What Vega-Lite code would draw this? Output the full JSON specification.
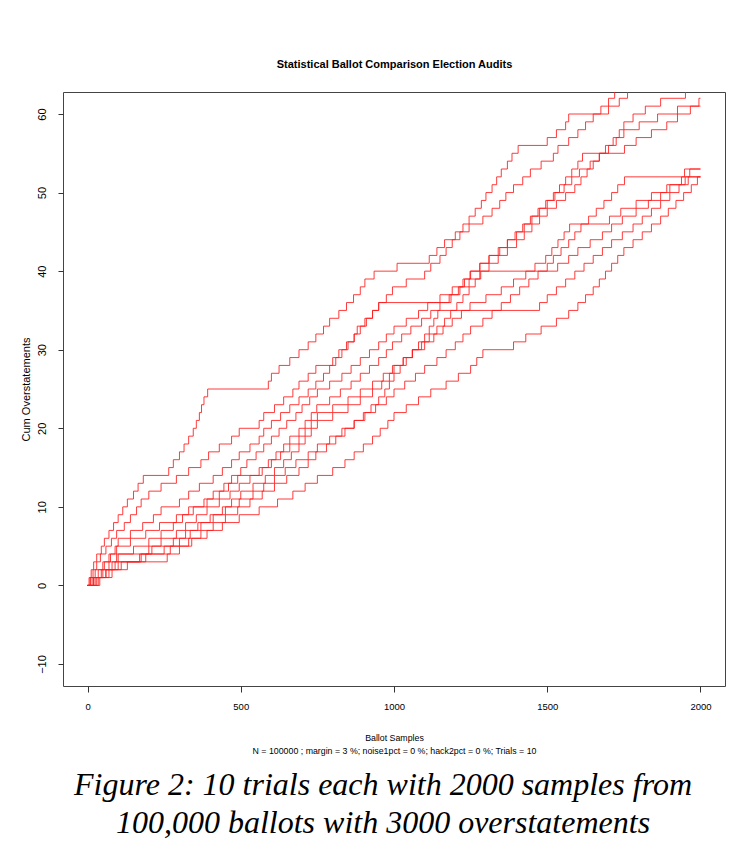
{
"$schema":"https://vega.github.io/schema/vega-lite/v6.json",
"width":662,"height":594,
"autosize":{"type":"none"},
"padding":{"left":63,"top":92,"right":30,"bottom":181},
"background":"white",
"config":{"view":{"stroke":"#444","strokeWidth":1}},
"title":{"text":["Figure 2: 10 trials each with 2000 samples from","100,000 ballots with 3000 overstatements"],"orient":"bottom","anchor":"middle","font":"Liberation Serif","fontStyle":"italic","fontWeight":"normal","fontSize":32,"lineHeight":38,"offset":15,"dx":-11,"color":"#000"},
"data":{"values":[
{"t":1,"x":0,"y":0},{"t":1,"x":5,"y":1},{"t":1,"x":12,"y":2},{"t":1,"x":20,"y":3},{"t":1,"x":30,"y":4},{"t":1,"x":45,"y":5},{"t":1,"x":55,"y":6},{"t":1,"x":70,"y":7},{"t":1,"x":85,"y":8},{"t":1,"x":100,"y":9},{"t":1,"x":115,"y":10},{"t":1,"x":130,"y":11},{"t":1,"x":150,"y":12},{"t":1,"x":165,"y":13},{"t":1,"x":182,"y":14},{"t":1,"x":265,"y":15},{"t":1,"x":280,"y":16},{"t":1,"x":300,"y":17},{"t":1,"x":315,"y":18},{"t":1,"x":330,"y":19},{"t":1,"x":345,"y":20},{"t":1,"x":355,"y":21},{"t":1,"x":365,"y":22},{"t":1,"x":372,"y":23},{"t":1,"x":380,"y":24},{"t":1,"x":392,"y":25},{"t":1,"x":590,"y":26},{"t":1,"x":600,"y":27},{"t":1,"x":625,"y":28},{"t":1,"x":660,"y":29},{"t":1,"x":690,"y":30},{"t":1,"x":720,"y":31},{"t":1,"x":745,"y":32},{"t":1,"x":770,"y":33},{"t":1,"x":790,"y":34},{"t":1,"x":820,"y":35},{"t":1,"x":845,"y":36},{"t":1,"x":868,"y":37},{"t":1,"x":890,"y":38},{"t":1,"x":905,"y":39},{"t":1,"x":935,"y":40},{"t":1,"x":1010,"y":41},{"t":1,"x":1115,"y":42},{"t":1,"x":1140,"y":43},{"t":1,"x":1165,"y":44},{"t":1,"x":1200,"y":45},{"t":1,"x":1225,"y":46},{"t":1,"x":1245,"y":47},{"t":1,"x":1265,"y":48},{"t":1,"x":1285,"y":49},{"t":1,"x":1300,"y":50},{"t":1,"x":1320,"y":51},{"t":1,"x":1335,"y":52},{"t":1,"x":1350,"y":53},{"t":1,"x":1370,"y":54},{"t":1,"x":1385,"y":55},{"t":1,"x":1405,"y":56},{"t":1,"x":1500,"y":57},{"t":1,"x":1530,"y":58},{"t":1,"x":1560,"y":59},{"t":1,"x":1570,"y":60},{"t":1,"x":1675,"y":61},{"t":1,"x":1700,"y":62},{"t":1,"x":1720,"y":63},{"t":1,"x":1760,"y":64},
{"t":2,"x":0,"y":0},{"t":2,"x":8,"y":1},{"t":2,"x":18,"y":2},{"t":2,"x":30,"y":3},{"t":2,"x":42,"y":4},{"t":2,"x":60,"y":5},{"t":2,"x":78,"y":6},{"t":2,"x":95,"y":7},{"t":2,"x":120,"y":8},{"t":2,"x":140,"y":9},{"t":2,"x":160,"y":10},{"t":2,"x":175,"y":11},{"t":2,"x":200,"y":12},{"t":2,"x":240,"y":13},{"t":2,"x":290,"y":14},{"t":2,"x":330,"y":15},{"t":2,"x":370,"y":16},{"t":2,"x":395,"y":17},{"t":2,"x":430,"y":18},{"t":2,"x":470,"y":19},{"t":2,"x":495,"y":20},{"t":2,"x":560,"y":21},{"t":2,"x":575,"y":22},{"t":2,"x":610,"y":23},{"t":2,"x":640,"y":24},{"t":2,"x":670,"y":25},{"t":2,"x":690,"y":26},{"t":2,"x":720,"y":27},{"t":2,"x":745,"y":28},{"t":2,"x":800,"y":29},{"t":2,"x":820,"y":30},{"t":2,"x":845,"y":31},{"t":2,"x":870,"y":32},{"t":2,"x":880,"y":33},{"t":2,"x":905,"y":34},{"t":2,"x":930,"y":35},{"t":2,"x":950,"y":36},{"t":2,"x":975,"y":37},{"t":2,"x":995,"y":38},{"t":2,"x":1040,"y":39},{"t":2,"x":1100,"y":40},{"t":2,"x":1120,"y":41},{"t":2,"x":1150,"y":42},{"t":2,"x":1170,"y":43},{"t":2,"x":1190,"y":44},{"t":2,"x":1215,"y":45},{"t":2,"x":1245,"y":46},{"t":2,"x":1290,"y":47},{"t":2,"x":1320,"y":48},{"t":2,"x":1345,"y":49},{"t":2,"x":1365,"y":50},{"t":2,"x":1390,"y":51},{"t":2,"x":1420,"y":52},{"t":2,"x":1445,"y":53},{"t":2,"x":1480,"y":54},{"t":2,"x":1520,"y":55},{"t":2,"x":1535,"y":56},{"t":2,"x":1570,"y":57},{"t":2,"x":1600,"y":58},{"t":2,"x":1625,"y":59},{"t":2,"x":1650,"y":60},{"t":2,"x":1700,"y":61},{"t":2,"x":1735,"y":62},{"t":2,"x":1762,"y":63},{"t":2,"x":1790,"y":64},
{"t":3,"x":0,"y":0},{"t":3,"x":15,"y":1},{"t":3,"x":35,"y":2},{"t":3,"x":55,"y":3},{"t":3,"x":70,"y":4},{"t":3,"x":90,"y":5},{"t":3,"x":100,"y":6},{"t":3,"x":140,"y":7},{"t":3,"x":180,"y":8},{"t":3,"x":215,"y":9},{"t":3,"x":240,"y":10},{"t":3,"x":300,"y":11},{"t":3,"x":330,"y":12},{"t":3,"x":365,"y":13},{"t":3,"x":410,"y":14},{"t":3,"x":440,"y":15},{"t":3,"x":470,"y":16},{"t":3,"x":495,"y":17},{"t":3,"x":530,"y":18},{"t":3,"x":560,"y":19},{"t":3,"x":575,"y":20},{"t":3,"x":600,"y":21},{"t":3,"x":630,"y":22},{"t":3,"x":660,"y":23},{"t":3,"x":690,"y":24},{"t":3,"x":720,"y":25},{"t":3,"x":745,"y":26},{"t":3,"x":770,"y":27},{"t":3,"x":790,"y":28},{"t":3,"x":810,"y":29},{"t":3,"x":830,"y":30},{"t":3,"x":850,"y":31},{"t":3,"x":870,"y":32},{"t":3,"x":890,"y":33},{"t":3,"x":910,"y":34},{"t":3,"x":930,"y":35},{"t":3,"x":950,"y":36},{"t":3,"x":1186,"y":37},{"t":3,"x":1215,"y":38},{"t":3,"x":1245,"y":39},{"t":3,"x":1280,"y":40},{"t":3,"x":1310,"y":41},{"t":3,"x":1340,"y":42},{"t":3,"x":1370,"y":43},{"t":3,"x":1400,"y":44},{"t":3,"x":1425,"y":45},{"t":3,"x":1450,"y":46},{"t":3,"x":1475,"y":47},{"t":3,"x":1500,"y":48},{"t":3,"x":1530,"y":49},{"t":3,"x":1560,"y":50},{"t":3,"x":1590,"y":51},{"t":3,"x":1610,"y":52},{"t":3,"x":1630,"y":53},{"t":3,"x":1650,"y":54},{"t":3,"x":1670,"y":55},{"t":3,"x":1690,"y":56},{"t":3,"x":1715,"y":57},{"t":3,"x":1735,"y":58},{"t":3,"x":1750,"y":59},{"t":3,"x":1780,"y":60},{"t":3,"x":1820,"y":61},{"t":3,"x":1870,"y":62},{"t":3,"x":1951,"y":63},{"t":3,"x":1990,"y":64},
{"t":4,"x":0,"y":0},{"t":4,"x":20,"y":1},{"t":4,"x":45,"y":2},{"t":4,"x":70,"y":3},{"t":4,"x":95,"y":4},{"t":4,"x":150,"y":5},{"t":4,"x":200,"y":6},{"t":4,"x":240,"y":7},{"t":4,"x":280,"y":8},{"t":4,"x":310,"y":9},{"t":4,"x":345,"y":10},{"t":4,"x":380,"y":11},{"t":4,"x":410,"y":12},{"t":4,"x":445,"y":13},{"t":4,"x":470,"y":14},{"t":4,"x":500,"y":15},{"t":4,"x":520,"y":16},{"t":4,"x":550,"y":17},{"t":4,"x":575,"y":18},{"t":4,"x":600,"y":19},{"t":4,"x":625,"y":20},{"t":4,"x":650,"y":21},{"t":4,"x":680,"y":22},{"t":4,"x":700,"y":23},{"t":4,"x":725,"y":24},{"t":4,"x":750,"y":25},{"t":4,"x":790,"y":26},{"t":4,"x":830,"y":27},{"t":4,"x":860,"y":28},{"t":4,"x":890,"y":29},{"t":4,"x":920,"y":30},{"t":4,"x":950,"y":31},{"t":4,"x":975,"y":32},{"t":4,"x":1000,"y":33},{"t":4,"x":1040,"y":34},{"t":4,"x":1080,"y":35},{"t":4,"x":1110,"y":36},{"t":4,"x":1150,"y":37},{"t":4,"x":1190,"y":38},{"t":4,"x":1225,"y":39},{"t":4,"x":1250,"y":40},{"t":4,"x":1280,"y":41},{"t":4,"x":1310,"y":42},{"t":4,"x":1345,"y":43},{"t":4,"x":1370,"y":44},{"t":4,"x":1400,"y":45},{"t":4,"x":1425,"y":46},{"t":4,"x":1450,"y":47},{"t":4,"x":1475,"y":48},{"t":4,"x":1500,"y":49},{"t":4,"x":1525,"y":50},{"t":4,"x":1555,"y":51},{"t":4,"x":1580,"y":52},{"t":4,"x":1605,"y":53},{"t":4,"x":1640,"y":54},{"t":4,"x":1670,"y":55},{"t":4,"x":1700,"y":56},{"t":4,"x":1725,"y":57},{"t":4,"x":1750,"y":58},{"t":4,"x":1800,"y":59},{"t":4,"x":1860,"y":60},{"t":4,"x":1925,"y":61},{"t":4,"x":1995,"y":62},{"t":4,"x":2000,"y":62},
{"t":5,"x":0,"y":0},{"t":5,"x":10,"y":1},{"t":5,"x":25,"y":2},{"t":5,"x":50,"y":3},{"t":5,"x":75,"y":4},{"t":5,"x":95,"y":5},{"t":5,"x":140,"y":6},{"t":5,"x":190,"y":7},{"t":5,"x":235,"y":8},{"t":5,"x":290,"y":9},{"t":5,"x":330,"y":10},{"t":5,"x":390,"y":11},{"t":5,"x":430,"y":12},{"t":5,"x":460,"y":13},{"t":5,"x":490,"y":14},{"t":5,"x":560,"y":15},{"t":5,"x":590,"y":16},{"t":5,"x":615,"y":17},{"t":5,"x":640,"y":18},{"t":5,"x":660,"y":19},{"t":5,"x":690,"y":20},{"t":5,"x":710,"y":21},{"t":5,"x":730,"y":22},{"t":5,"x":748,"y":23},{"t":5,"x":790,"y":24},{"t":5,"x":825,"y":25},{"t":5,"x":860,"y":26},{"t":5,"x":890,"y":27},{"t":5,"x":920,"y":28},{"t":5,"x":950,"y":29},{"t":5,"x":975,"y":30},{"t":5,"x":995,"y":31},{"t":5,"x":1025,"y":32},{"t":5,"x":1055,"y":33},{"t":5,"x":1090,"y":34},{"t":5,"x":1120,"y":35},{"t":5,"x":1150,"y":36},{"t":5,"x":1180,"y":37},{"t":5,"x":1210,"y":38},{"t":5,"x":1230,"y":39},{"t":5,"x":1248,"y":40},{"t":5,"x":1280,"y":41},{"t":5,"x":1310,"y":42},{"t":5,"x":1340,"y":43},{"t":5,"x":1370,"y":44},{"t":5,"x":1395,"y":45},{"t":5,"x":1420,"y":46},{"t":5,"x":1445,"y":47},{"t":5,"x":1470,"y":48},{"t":5,"x":1495,"y":49},{"t":5,"x":1520,"y":50},{"t":5,"x":1540,"y":51},{"t":5,"x":1560,"y":52},{"t":5,"x":1580,"y":53},{"t":5,"x":1600,"y":54},{"t":5,"x":1615,"y":55},{"t":5,"x":1752,"y":56},{"t":5,"x":1790,"y":57},{"t":5,"x":1840,"y":58},{"t":5,"x":1890,"y":59},{"t":5,"x":1925,"y":60},{"t":5,"x":1967,"y":61},{"t":5,"x":2000,"y":61},
{"t":6,"x":0,"y":0},{"t":6,"x":30,"y":1},{"t":6,"x":60,"y":2},{"t":6,"x":90,"y":3},{"t":6,"x":170,"y":4},{"t":6,"x":210,"y":5},{"t":6,"x":240,"y":6},{"t":6,"x":290,"y":7},{"t":6,"x":320,"y":8},{"t":6,"x":355,"y":9},{"t":6,"x":390,"y":10},{"t":6,"x":430,"y":11},{"t":6,"x":465,"y":12},{"t":6,"x":495,"y":13},{"t":6,"x":530,"y":14},{"t":6,"x":570,"y":15},{"t":6,"x":600,"y":16},{"t":6,"x":630,"y":17},{"t":6,"x":660,"y":18},{"t":6,"x":690,"y":19},{"t":6,"x":710,"y":20},{"t":6,"x":730,"y":21},{"t":6,"x":750,"y":22},{"t":6,"x":800,"y":23},{"t":6,"x":850,"y":24},{"t":6,"x":890,"y":25},{"t":6,"x":930,"y":26},{"t":6,"x":965,"y":27},{"t":6,"x":995,"y":28},{"t":6,"x":1030,"y":29},{"t":6,"x":1060,"y":30},{"t":6,"x":1100,"y":31},{"t":6,"x":1130,"y":32},{"t":6,"x":1160,"y":33},{"t":6,"x":1190,"y":34},{"t":6,"x":1220,"y":35},{"t":6,"x":1248,"y":36},{"t":6,"x":1300,"y":37},{"t":6,"x":1350,"y":38},{"t":6,"x":1390,"y":39},{"t":6,"x":1430,"y":40},{"t":6,"x":1460,"y":41},{"t":6,"x":1495,"y":42},{"t":6,"x":1515,"y":43},{"t":6,"x":1535,"y":44},{"t":6,"x":1555,"y":45},{"t":6,"x":1573,"y":46},{"t":6,"x":1703,"y":47},{"t":6,"x":1740,"y":48},{"t":6,"x":1790,"y":49},{"t":6,"x":1840,"y":50},{"t":6,"x":1890,"y":51},{"t":6,"x":1950,"y":52},{"t":6,"x":2000,"y":52},
{"t":7,"x":0,"y":0},{"t":7,"x":25,"y":1},{"t":7,"x":50,"y":2},{"t":7,"x":80,"y":3},{"t":7,"x":100,"y":4},{"t":7,"x":200,"y":5},{"t":7,"x":280,"y":6},{"t":7,"x":320,"y":7},{"t":7,"x":360,"y":8},{"t":7,"x":400,"y":9},{"t":7,"x":440,"y":10},{"t":7,"x":470,"y":11},{"t":7,"x":500,"y":12},{"t":7,"x":540,"y":13},{"t":7,"x":580,"y":14},{"t":7,"x":610,"y":15},{"t":7,"x":640,"y":16},{"t":7,"x":665,"y":17},{"t":7,"x":690,"y":18},{"t":7,"x":710,"y":19},{"t":7,"x":730,"y":20},{"t":7,"x":750,"y":21},{"t":7,"x":800,"y":22},{"t":7,"x":850,"y":23},{"t":7,"x":890,"y":24},{"t":7,"x":930,"y":25},{"t":7,"x":960,"y":26},{"t":7,"x":985,"y":27},{"t":7,"x":1000,"y":28},{"t":7,"x":1030,"y":29},{"t":7,"x":1060,"y":30},{"t":7,"x":1090,"y":31},{"t":7,"x":1115,"y":32},{"t":7,"x":1140,"y":33},{"t":7,"x":1165,"y":34},{"t":7,"x":1185,"y":35},{"t":7,"x":1205,"y":36},{"t":7,"x":1225,"y":37},{"t":7,"x":1245,"y":38},{"t":7,"x":1265,"y":39},{"t":7,"x":1283,"y":40},{"t":7,"x":1534,"y":41},{"t":7,"x":1570,"y":42},{"t":7,"x":1600,"y":43},{"t":7,"x":1640,"y":44},{"t":7,"x":1680,"y":45},{"t":7,"x":1710,"y":46},{"t":7,"x":1745,"y":47},{"t":7,"x":1790,"y":48},{"t":7,"x":1830,"y":49},{"t":7,"x":1870,"y":50},{"t":7,"x":1900,"y":51},{"t":7,"x":1938,"y":52},{"t":7,"x":1965,"y":53},{"t":7,"x":2000,"y":53},
{"t":8,"x":0,"y":0},{"t":8,"x":35,"y":1},{"t":8,"x":70,"y":2},{"t":8,"x":130,"y":3},{"t":8,"x":190,"y":4},{"t":8,"x":270,"y":5},{"t":8,"x":300,"y":6},{"t":8,"x":335,"y":7},{"t":8,"x":370,"y":8},{"t":8,"x":410,"y":9},{"t":8,"x":450,"y":10},{"t":8,"x":495,"y":11},{"t":8,"x":540,"y":12},{"t":8,"x":575,"y":13},{"t":8,"x":610,"y":14},{"t":8,"x":645,"y":15},{"t":8,"x":680,"y":16},{"t":8,"x":720,"y":17},{"t":8,"x":750,"y":18},{"t":8,"x":790,"y":19},{"t":8,"x":830,"y":20},{"t":8,"x":870,"y":21},{"t":8,"x":905,"y":22},{"t":8,"x":940,"y":23},{"t":8,"x":975,"y":24},{"t":8,"x":1000,"y":25},{"t":8,"x":1035,"y":26},{"t":8,"x":1070,"y":27},{"t":8,"x":1100,"y":28},{"t":8,"x":1140,"y":29},{"t":8,"x":1170,"y":30},{"t":8,"x":1200,"y":31},{"t":8,"x":1225,"y":32},{"t":8,"x":1250,"y":33},{"t":8,"x":1290,"y":34},{"t":8,"x":1320,"y":35},{"t":8,"x":1350,"y":36},{"t":8,"x":1380,"y":37},{"t":8,"x":1410,"y":38},{"t":8,"x":1440,"y":39},{"t":8,"x":1470,"y":40},{"t":8,"x":1500,"y":41},{"t":8,"x":1520,"y":42},{"t":8,"x":1545,"y":43},{"t":8,"x":1570,"y":44},{"t":8,"x":1590,"y":45},{"t":8,"x":1610,"y":46},{"t":8,"x":1635,"y":47},{"t":8,"x":1660,"y":48},{"t":8,"x":1685,"y":49},{"t":8,"x":1710,"y":50},{"t":8,"x":1730,"y":51},{"t":8,"x":1752,"y":52},{"t":8,"x":1948,"y":53},{"t":8,"x":2000,"y":53},
{"t":9,"x":0,"y":0},{"t":9,"x":40,"y":1},{"t":9,"x":80,"y":2},{"t":9,"x":110,"y":3},{"t":9,"x":260,"y":4},{"t":9,"x":300,"y":5},{"t":9,"x":340,"y":6},{"t":9,"x":370,"y":7},{"t":9,"x":410,"y":8},{"t":9,"x":450,"y":9},{"t":9,"x":490,"y":10},{"t":9,"x":530,"y":11},{"t":9,"x":570,"y":12},{"t":9,"x":610,"y":13},{"t":9,"x":650,"y":14},{"t":9,"x":690,"y":15},{"t":9,"x":720,"y":16},{"t":9,"x":745,"y":17},{"t":9,"x":780,"y":18},{"t":9,"x":810,"y":19},{"t":9,"x":840,"y":20},{"t":9,"x":870,"y":21},{"t":9,"x":900,"y":22},{"t":9,"x":925,"y":23},{"t":9,"x":950,"y":24},{"t":9,"x":970,"y":25},{"t":9,"x":985,"y":26},{"t":9,"x":1000,"y":27},{"t":9,"x":1020,"y":28},{"t":9,"x":1040,"y":29},{"t":9,"x":1060,"y":30},{"t":9,"x":1080,"y":31},{"t":9,"x":1100,"y":32},{"t":9,"x":1115,"y":33},{"t":9,"x":1130,"y":34},{"t":9,"x":1143,"y":35},{"t":9,"x":1475,"y":36},{"t":9,"x":1500,"y":37},{"t":9,"x":1530,"y":38},{"t":9,"x":1560,"y":39},{"t":9,"x":1590,"y":40},{"t":9,"x":1620,"y":41},{"t":9,"x":1650,"y":42},{"t":9,"x":1680,"y":43},{"t":9,"x":1710,"y":44},{"t":9,"x":1745,"y":45},{"t":9,"x":1780,"y":46},{"t":9,"x":1810,"y":47},{"t":9,"x":1840,"y":48},{"t":9,"x":1870,"y":49},{"t":9,"x":1900,"y":50},{"t":9,"x":1930,"y":51},{"t":9,"x":1960,"y":52},{"t":9,"x":2000,"y":52},
{"t":10,"x":0,"y":0},{"t":10,"x":20,"y":1},{"t":10,"x":60,"y":2},{"t":10,"x":100,"y":3},{"t":10,"x":175,"y":4},{"t":10,"x":250,"y":5},{"t":10,"x":330,"y":6},{"t":10,"x":390,"y":7},{"t":10,"x":440,"y":8},{"t":10,"x":495,"y":9},{"t":10,"x":560,"y":10},{"t":10,"x":620,"y":11},{"t":10,"x":670,"y":12},{"t":10,"x":710,"y":13},{"t":10,"x":750,"y":14},{"t":10,"x":800,"y":15},{"t":10,"x":840,"y":16},{"t":10,"x":870,"y":17},{"t":10,"x":900,"y":18},{"t":10,"x":930,"y":19},{"t":10,"x":955,"y":20},{"t":10,"x":980,"y":21},{"t":10,"x":1000,"y":22},{"t":10,"x":1040,"y":23},{"t":10,"x":1080,"y":24},{"t":10,"x":1120,"y":25},{"t":10,"x":1170,"y":26},{"t":10,"x":1210,"y":27},{"t":10,"x":1250,"y":28},{"t":10,"x":1270,"y":29},{"t":10,"x":1290,"y":30},{"t":10,"x":1390,"y":31},{"t":10,"x":1430,"y":32},{"t":10,"x":1480,"y":33},{"t":10,"x":1530,"y":34},{"t":10,"x":1570,"y":35},{"t":10,"x":1600,"y":36},{"t":10,"x":1625,"y":37},{"t":10,"x":1650,"y":38},{"t":10,"x":1670,"y":39},{"t":10,"x":1690,"y":40},{"t":10,"x":1710,"y":41},{"t":10,"x":1730,"y":42},{"t":10,"x":1750,"y":43},{"t":10,"x":1780,"y":44},{"t":10,"x":1810,"y":45},{"t":10,"x":1840,"y":46},{"t":10,"x":1870,"y":47},{"t":10,"x":1895,"y":48},{"t":10,"x":1920,"y":49},{"t":10,"x":1945,"y":50},{"t":10,"x":1970,"y":51},{"t":10,"x":1990,"y":52},{"t":10,"x":2000,"y":52}
]},
"layer":[
{"mark":{"type":"line","interpolate":"step-after","color":"#ff1a1a","strokeWidth":1,"opacity":0.85,"clip":true},
"encoding":{
"x":{"field":"x","type":"quantitative","scale":{"domain":[-80,2080],"nice":false,"zero":false},
"axis":{"values":[0,500,1000,1500,2000],"format":"d","grid":false,"domain":false,"tickSize":6,"tickColor":"#333","labelFont":"Liberation Sans","labelFontSize":9.5,"labelColor":"#000","labelPadding":9,"labelFlush":false,
"title":["Ballot Samples","N = 100000 ; margin = 3 %; noise1pct = 0 %; hack2pct = 0 %; Trials = 10"],"titleFont":"Liberation Sans","titleFontWeight":"normal","titleFontSize":8.8,"titleLineHeight":13,"titlePadding":23,"titleColor":"#000"}},
"y":{"field":"y","type":"quantitative","scale":{"domain":[-12.8,62.8],"nice":false,"zero":false},
"axis":{"values":[-10,0,10,20,30,40,50,60],"grid":false,"domain":false,"tickSize":5,"tickColor":"#333","labelAngle":270,"labelAlign":"center","labelBaseline":"bottom","labelPadding":11,"labelFont":"Liberation Sans","labelFontSize":11,"labelColor":"#000","labelFlush":false,
"title":"Cum Overstatements","titleFont":"Liberation Sans","titleFontWeight":"normal","titleFontSize":11,"titlePadding":5,"titleColor":"#000"}},
"detail":{"field":"t","type":"nominal"}
}},
{"mark":{"type":"point","opacity":0},
"encoding":{
"x":{"field":"x","type":"quantitative","scale":{"domain":[-80,2080],"nice":false,"zero":false},
"axis":{"orient":"top","labels":false,"ticks":false,"domain":false,"grid":false,"title":"Statistical Ballot Comparison Election Audits","titleFont":"Liberation Sans","titleFontWeight":"bold","titleFontSize":11,"titlePadding":23,"titleColor":"#000"}}
}}
],
"resolve":{"scale":{"x":"independent"}}
}
